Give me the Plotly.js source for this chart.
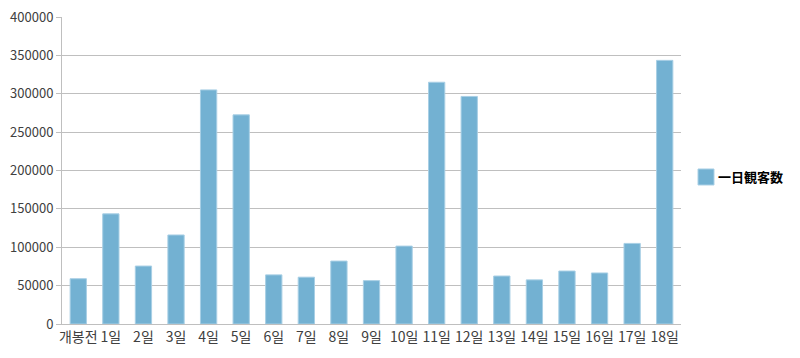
<!DOCTYPE html>
<html>
<head>
<meta charset="utf-8">
<script src="https://cdn.plot.ly/plotly-3.0.1.min.js"></script>
<style>html,body{margin:0;padding:0;background:#fff;}#chart{width:800px;height:358px;}</style>
</head>
<body>
<div id="chart"></div>
<script>
const categories = ["개봉전","1일","2일","3일","4일","5일","6일","7일","8일","9일","10일","11일","12일","13일","14일","15일","16일","17일","18일"];
const audience = [59000,143500,75500,116000,305000,272500,64000,61000,82000,56500,101500,315000,296500,62500,57500,69000,66500,105000,343500];
const yTicks = [0,50000,100000,150000,200000,250000,300000,350000,400000];
const seriesName = "一日観客数";
const barColor = '#73b1d2';

const trace = {
  type: 'bar',
  x: categories,
  y: audience,
  name: seriesName,
  marker: {color: barColor, line: {color: '#a8cfe5', width: 1}},
  hoverinfo: 'x+y'
};

const layout = {
  width: 800, height: 358,
  margin: {l: 62, r: 119, t: 17, b: 34, autoexpand: false},
  paper_bgcolor: '#fff', plot_bgcolor: '#fff',
  font: {family: '"Noto Sans CJK KR", "Noto Sans", sans-serif', size: 13, color: '#404040'},
  bargap: 0.5,
  showlegend: false,
  xaxis: {
    type: 'category',
    showline: true, linecolor: '#bfbfbf', linewidth: 1,
    ticks: '', tickfont: {size: 14, color: '#404040'},
    showgrid: false, automargin: false
  },
  yaxis: {
    range: [0, 400000],
    tickvals: yTicks,
    ticktext: yTicks.map(String),
    showline: true, linecolor: '#bfbfbf', linewidth: 1,
    ticks: 'outside', ticklen: 5, tickcolor: '#bfbfbf',
    showgrid: true, gridcolor: '#bfbfbf', gridwidth: 1,
    zeroline: false,
    tickfont: {size: 13, color: '#404040'},
    automargin: false
  },
  shapes: [{
    type: 'rect', xref: 'paper', yref: 'paper',
    x0: 1.0275, x1: 1.0533, y0: 0.4528, y1: 0.5049,
    fillcolor: barColor, line: {color: '#a8cfe5', width: 1}
  }],
  annotations: [{
    xref: 'paper', yref: 'paper', x: 1.0566, y: 0.479,
    xanchor: 'left', yanchor: 'middle', showarrow: false,
    text: '<b>' + seriesName + '</b>',
    font: {size: 13, color: '#000'}
  }]
};

Plotly.newPlot('chart', [trace], layout, {displayModeBar: false, staticPlot: true});
</script>
</body>
</html>
